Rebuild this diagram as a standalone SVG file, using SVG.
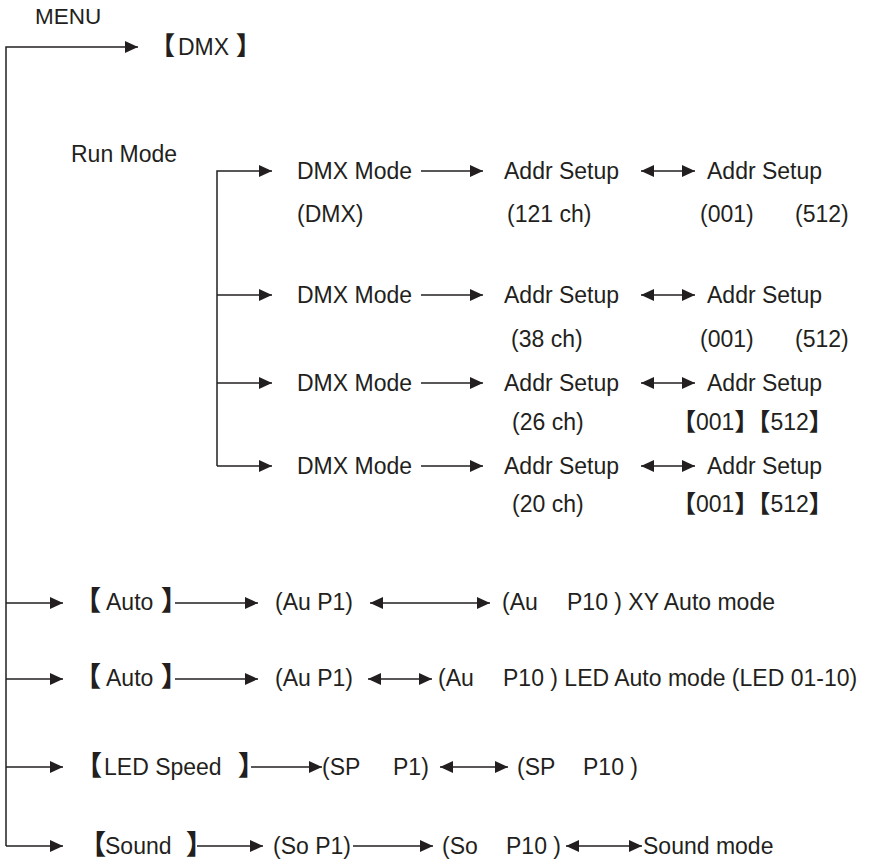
<svg xmlns="http://www.w3.org/2000/svg" width="881" height="861" viewBox="0 0 881 861">
<style>
text{font-family:"Liberation Sans",Arial,"Noto Sans CJK SC",sans-serif;font-size:23px;fill:#231f20}
.b{font-family:"Noto Sans CJK SC","Noto Sans CJK JP",sans-serif;font-size:25px;font-weight:900}
.bb{font-family:"Noto Sans CJK SC","Noto Sans CJK JP",sans-serif;font-size:27px;font-weight:900}
.ln{stroke:#231f20;stroke-width:1.5;fill:none}
.a{marker-end:url(#ah)}
.d{marker-start:url(#ah);marker-end:url(#ah)}
</style>
<defs>
<marker id="ah" markerWidth="13" markerHeight="12" refX="13" refY="6" orient="auto-start-reverse" markerUnits="userSpaceOnUse">
<path d="M0,0 L13,6 L0,12 z" fill="#231f20"/>
</marker>
</defs>
<rect width="881" height="861" fill="#fff"/>
<g id="connectors">
<path class="ln" d="M6,846 V47 H138" marker-end="url(#ah)"/>
<path class="ln" d="M217,466 V171 H272" marker-end="url(#ah)"/>
<line class="ln a" x1="217" y1="295" x2="272" y2="295"/>
<line class="ln a" x1="217" y1="383" x2="272" y2="383"/>
<path class="ln" d="M217,466 H272" marker-end="url(#ah)"/>
<line class="ln a" x1="421" y1="171" x2="483" y2="171"/>
<line class="ln a" x1="421" y1="295" x2="483" y2="295"/>
<line class="ln a" x1="421" y1="383" x2="483" y2="383"/>
<line class="ln a" x1="421" y1="466" x2="483" y2="466"/>
<line class="ln d" x1="641" y1="171" x2="695" y2="171"/>
<line class="ln d" x1="641" y1="295" x2="695" y2="295"/>
<line class="ln d" x1="641" y1="383" x2="695" y2="383"/>
<line class="ln d" x1="641" y1="466" x2="695" y2="466"/>
<line class="ln a" x1="6" y1="603" x2="63" y2="603"/>
<line class="ln a" x1="6" y1="679" x2="63" y2="679"/>
<line class="ln a" x1="6" y1="767" x2="63" y2="767"/>
<path class="ln" d="M6,846 H63" marker-end="url(#ah)"/>
<line class="ln a" x1="175" y1="603" x2="258" y2="603"/>
<line class="ln d" x1="370" y1="603" x2="490" y2="603"/>
<line class="ln a" x1="175" y1="679" x2="258" y2="679"/>
<line class="ln d" x1="368" y1="679" x2="432" y2="679"/>
<line class="ln a" x1="251" y1="767" x2="322" y2="767"/>
<line class="ln d" x1="440" y1="767" x2="508" y2="767"/>
<line class="ln a" x1="197" y1="846" x2="263" y2="846"/>
<line class="ln a" x1="353" y1="846" x2="433" y2="846"/>
<line class="ln d" x1="566" y1="846" x2="642" y2="846"/>
</g>
<g id="menu"><text x="35" y="24" style="font-size:22.5px">MENU</text></g>
<g id="dmx"><text y="55"><tspan class="b" x="150">【</tspan><tspan x="178">DMX</tspan><tspan class="b" x="236">】</tspan></text></g>
<g id="runmode"><text x="71" y="162">Run Mode</text></g>
<g id="row1">
<text x="297" y="179">DMX Mode</text>
<text x="504" y="179">Addr Setup</text>
<text x="707" y="179">Addr Setup</text>
<text x="297" y="222">(DMX)</text>
<text x="507" y="222">(121 ch)</text>
<text x="700" y="222">(001)</text>
<text x="795" y="222">(512)</text>
</g>
<g id="row2">
<text x="297" y="303">DMX Mode</text>
<text x="504" y="303">Addr Setup</text>
<text x="707" y="303">Addr Setup</text>
<text x="511" y="347">(38 ch)</text>
<text x="700" y="347">(001)</text>
<text x="795" y="347">(512)</text>
</g>
<g id="row3">
<text x="297" y="391">DMX Mode</text>
<text x="504" y="391">Addr Setup</text>
<text x="707" y="391">Addr Setup</text>
<text x="512" y="430">(26 ch)</text>
<text x="672" y="430"><tspan class="b" style="font-size:24px">【</tspan>001<tspan class="b" style="font-size:24px">】【</tspan>512<tspan class="b" style="font-size:24px">】</tspan></text>
</g>
<g id="row4">
<text x="297" y="474">DMX Mode</text>
<text x="504" y="474">Addr Setup</text>
<text x="707" y="474">Addr Setup</text>
<text x="512" y="512">(20 ch)</text>
<text x="672" y="512"><tspan class="b" style="font-size:24px">【</tspan>001<tspan class="b" style="font-size:24px">】【</tspan>512<tspan class="b" style="font-size:24px">】</tspan></text>
</g>
<g id="auto1">
<text y="610"><tspan class="bb" x="74">【</tspan><tspan x="106">Auto</tspan><tspan class="bb" x="161">】</tspan></text>
<text x="275" y="610">(Au P1)</text>
<text y="610"><tspan x="502">(Au</tspan><tspan x="567">P10 ) XY Auto mode</tspan></text>
</g>
<g id="auto2">
<text y="686"><tspan class="bb" x="74">【</tspan><tspan x="106">Auto</tspan><tspan class="bb" x="161">】</tspan></text>
<text x="275" y="686">(Au P1)</text>
<text y="686"><tspan x="438">(Au</tspan><tspan x="503">P10 ) LED Auto mode (LED 01-10)</tspan></text>
</g>
<g id="ledspeed">
<text y="775"><tspan class="bb" x="75">【</tspan><tspan x="104">LED Speed</tspan><tspan class="bb" x="238">】</tspan></text>
<text y="775"><tspan x="322">(SP</tspan><tspan x="393">P1)</tspan></text>
<text y="775"><tspan x="517">(SP</tspan><tspan x="583">P10 )</tspan></text>
</g>
<g id="sound">
<text y="854"><tspan class="bb" x="79">【</tspan><tspan x="105">Sound</tspan><tspan class="bb" x="186">】</tspan></text>
<text x="273" y="854">(So P1)</text>
<text y="854"><tspan x="442">(So</tspan><tspan x="506">P10 )</tspan></text>
<text x="643" y="854">Sound mode</text>
</g>
</svg>
